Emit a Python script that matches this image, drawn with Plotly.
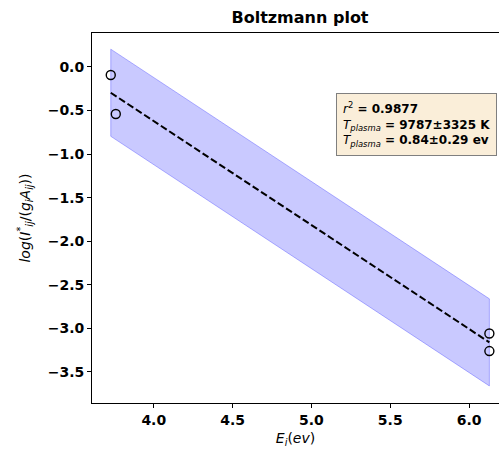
import numpy as np
import plotly.graph_objects as go

# Data
energy_ev = [3.727, 3.759, 6.129, 6.129]
log_intensity = [-0.092, -0.54, -3.058, -3.26]
band_half_width = 0.5
stats_r2 = "0.9877"
stats_temp_k = "9787±3325 K"
stats_temp_ev = "0.84±0.29 ev"
x_ticks = [4.0, 4.5, 5.0, 5.5, 6.0]
y_ticks = [0.0, -0.5, -1.0, -1.5, -2.0, -2.5, -3.0, -3.5]

x = np.array(energy_ev)
y = np.array(log_intensity)
slope, intercept = np.polyfit(x, y, 1)
xf = np.array([x.min(), x.max()])
yf = slope * xf + intercept

FONT = "DejaVu Sans"
W, H = 499, 453
L, R, T, B = 92, 0, 33, 50

fig = go.Figure()
# confidence band
fig.add_trace(go.Scatter(
    x=[xf[0], xf[1], xf[1], xf[0], xf[0]],
    y=[yf[0] + band_half_width, yf[1] + band_half_width,
       yf[1] - band_half_width, yf[0] - band_half_width,
       yf[0] + band_half_width],
    mode="lines", fill="toself",
    fillcolor="rgba(0,0,255,0.21)",
    line=dict(color="rgba(0,0,255,0.28)", width=1),
    hoverinfo="skip", showlegend=False))
# fit line
fig.add_trace(go.Scatter(
    x=xf, y=yf, mode="lines",
    line=dict(color="black", width=2, dash="7px,3px"),
    showlegend=False))
# data points
fig.add_trace(go.Scatter(
    x=x, y=y, mode="markers", cliponaxis=False,
    marker=dict(symbol="circle-open", size=9, color="black",
                line=dict(width=1.4, color="black")),
    showlegend=False))

plot_w = W - L - R
plot_h = H - T - B

fig.add_annotation(
    xref="paper", yref="paper",
    x=(497 - L) / plot_w, y=(H - B - 92.5) / plot_h,
    xanchor="right", yanchor="top",
    text=(f"<i>r</i><sup>2</sup><b> = {stats_r2}</b><br>"
          f"<i>T</i><sub><i>plasma</i></sub><b> = {stats_temp_k}</b><br>"
          f"<i>T</i><sub><i>plasma</i></sub><b> = {stats_temp_ev}</b>"),
    align="left", showarrow=False,
    font=dict(family=FONT, size=12, color="black"),
    bgcolor="rgba(250,238,217,1)", bordercolor="#7f7f7f",
    borderwidth=1, borderpad=6)

axis_common = dict(
    showgrid=False, zeroline=False, showline=True, linecolor="black",
    linewidth=1, ticks="outside", ticklen=4, tickwidth=1, tickcolor="black",
    automargin=False,
    tickfont=dict(family=FONT, size=14, color="black", weight="bold"),
)

fig.update_layout(
    width=W, height=H,
    margin=dict(l=L, r=R, t=T, b=B, pad=0, autoexpand=False),
    paper_bgcolor="white", plot_bgcolor="white",
    font=dict(family=FONT, color="black"),
    title=dict(text="<b>Boltzmann plot</b>", xref="container", yref="container",
               x=300 / W, xanchor="center", y=1 - 17 / H, yanchor="middle",
               font=dict(family=FONT, size=16, color="black")),
    xaxis=dict(range=[3.608, 6.19], tickvals=x_ticks,
               ticktext=[f"{v:.1f}" for v in x_ticks], mirror=True,
               title=dict(text="<i>E</i><sub><i>i</i></sub>(<i>ev</i>)",
                          font=dict(family=FONT, size=14), standoff=6),
               **axis_common),
    yaxis=dict(range=[-3.856, 0.39], tickvals=y_ticks,
               ticktext=[f"{v:.1f}".replace("-", "−") for v in y_ticks],
               mirror=False,
               title=dict(text="<i>log</i>(<i>I</i><sup>*</sup><sub><i>ij</i></sub>/(<i>g</i><sub><i>i</i></sub><i>A</i><sub><i>ij</i></sub>))",
                          font=dict(family=FONT, size=14), standoff=13),
               **axis_common),
)

fig.write_html("out.html", config={"displayModeBar": False},
               post_script="document.body.style.margin='0';document.body.style.overflow='hidden';")
